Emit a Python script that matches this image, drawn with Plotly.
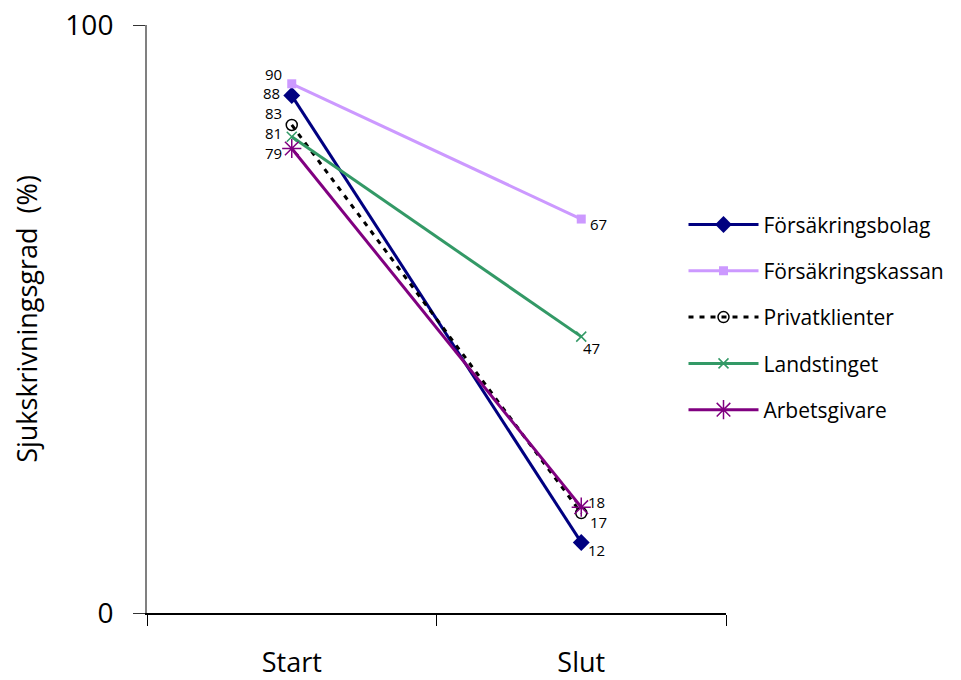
import plotly.graph_objects as go

# Sjukskrivningsgrad vid start och slut per uppdragsgivare
categories = ["Start", "Slut"]
series_names = ["Försäkringsbolag", "Försäkringskassan", "Privatklienter", "Landstinget", "Arbetsgivare"]
forsakringsbolag = [88, 12]
forsakringskassan = [90, 67]
privatklienter = [83, 17]
landstinget = [81, 47]
arbetsgivare = [79, 18]
y_ticks = [0, 100]

values = [forsakringsbolag, forsakringskassan, privatklienter, landstinget, arbetsgivare]

FONT = "Open Sans, Lato, sans-serif"

styles = [
    dict(color="#000080", dash="solid", symbol="diamond", msize=13, mline=0),
    dict(color="#CC99FF", dash="solid", symbol="square", msize=9, mline=0),
    dict(color="#000000", dash="5px,6px", symbol="circle-open", msize=11, mline=1.5),
    dict(color="#339966", dash="solid", symbol="x-thin-open", msize=10, mline=1.5),
    dict(color="#800080", dash="solid", symbol="asterisk-open", msize=16, mline=1.5),
]

# label offsets (px) for the start and end value annotations
label_offsets = [
    ((-11, 3), (6, -8)),
    ((-9, 10), (8, -5)),
    ((-9, 12), (8, -9)),
    ((-9, 4), (1, -11)),
    ((-9, -5), (6, 5)),
]

fig = go.Figure()
for i, (name, vals, st) in enumerate(zip(series_names, values, styles)):
    fig.add_trace(go.Scatter(
        x=categories, y=vals, name=name, mode="lines+markers",
        legendgroup=f"g{i}",
        line=dict(color=st["color"], width=3, dash=st["dash"]),
        marker=dict(symbol=st["symbol"], size=st["msize"], color=st["color"],
                    line=dict(color=st["color"], width=st["mline"])),
    ))

annotations = []
for vals, offs in zip(values, label_offsets):
    for j, (cat, v) in enumerate(zip(categories, vals)):
        dx, dy = offs[j]
        annotations.append(dict(
            x=cat, y=v, text=str(v), showarrow=False,
            xanchor="right" if j == 0 else "left", yanchor="middle",
            xshift=dx, yshift=dy, borderpad=0,
            font=dict(family=FONT, size=15, color="#000000"),
        ))

fig.update_layout(
    width=961, height=680,
    margin=dict(l=147, r=234, t=25, b=67),
    paper_bgcolor="white", plot_bgcolor="white",
    font=dict(family=FONT, color="#000000"),
    annotations=annotations,
    showlegend=True,
    legend=dict(
        x=0.925, y=0.695, xanchor="left", yanchor="top",
        font=dict(size=21, color="#000000"),
        itemwidth=70, tracegroupgap=16,
        bgcolor="rgba(0,0,0,0)",
    ),
    xaxis=dict(
        type="category", range=[-0.5, 1.5], automargin=False,
        showgrid=False, zeroline=False,
        showline=True, linecolor="#000000", linewidth=1.5,
        ticks="outside", tickson="boundaries", ticklen=11, tickcolor="#000000",
        ticklabelstandoff=25,
        tickfont=dict(size=27),
    ),
    yaxis=dict(
        range=[0, 100], tickvals=y_ticks, automargin=False,
        showgrid=False, zeroline=False,
        showline=True, linecolor="#808080", linewidth=2,
        ticks="outside", ticklen=12, tickcolor="#333333",
        ticklabelstandoff=14,
        tickfont=dict(size=28),
        title=dict(text="Sjukskrivningsgrad  (%)", font=dict(size=27), standoff=20),
    ),
)

fig.write_html("out.html")
